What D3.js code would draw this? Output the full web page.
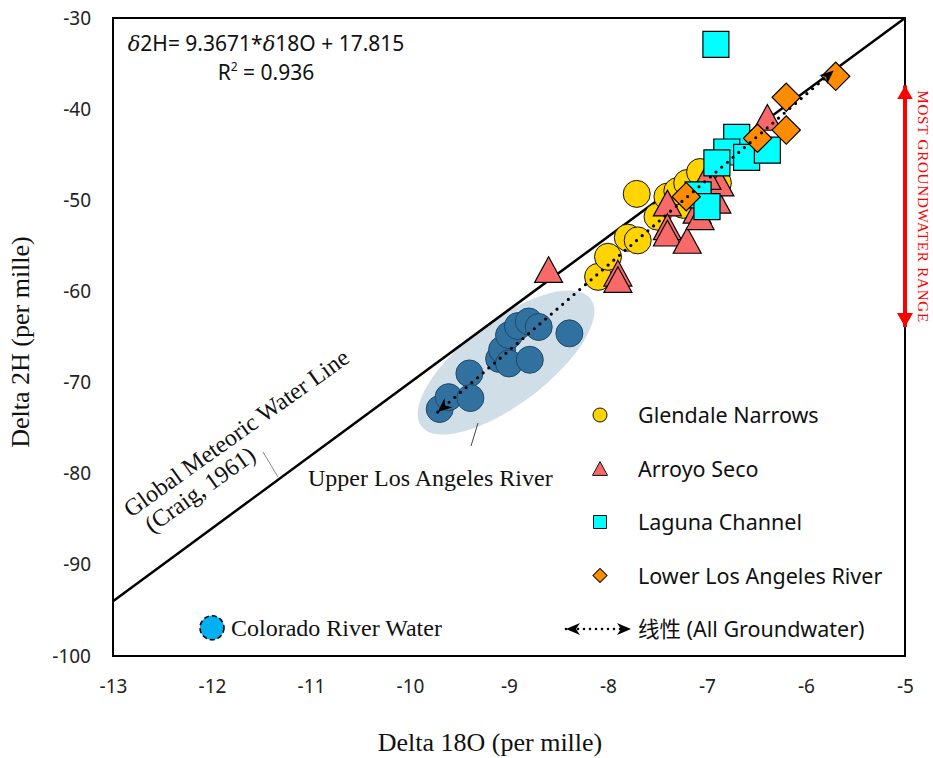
<!DOCTYPE html>
<html>
<head>
<meta charset="utf-8">
<script src="https://cdn.jsdelivr.net/npm/d3@7"></script>
<style>
  body { margin: 0; background: #fff; }
  .tick text { font-family: "Noto Sans", "Open Sans", sans-serif; font-size: 19px; fill: #222; }
  .serif { font-family: "Liberation Serif", "Times New Roman", serif; fill: #111; }
  .sans { font-family: "Noto Sans", "Noto Sans CJK SC", sans-serif; fill: #111; }
</style>
</head>
<body>
<script>
var W = 933, H = 758;
var margin = { top: 18, right: 28, bottom: 102, left: 113 };
var w = W - margin.left - margin.right;   // 792
var h = H - margin.top - margin.bottom;   // 638

// tick values
var xTicks = [-13, -12, -11, -10, -9, -8, -7, -6, -5];
var yTicks = [-30, -40, -50, -60, -70, -80, -90, -100];

// series (delta 18O, delta 2H)
var upperLA = [
  [-9.70, -72.9], [-9.61, -71.6], [-9.40, -69.0], [-9.39, -71.7],
  [-9.10, -67.4], [-9.07, -66.4], [-9.00, -67.9], [-8.79, -67.5],
  [-9.00, -64.8], [-8.91, -63.8], [-8.80, -63.3], [-8.70, -63.9],
  [-8.39, -64.6]
];
var glendale = [
  [-7.71, -49.3], [-8.10, -58.4], [-8.00, -56.2], [-7.80, -54.1],
  [-7.70, -54.4], [-7.50, -51.8], [-7.40, -49.6], [-7.24, -50.5],
  [-7.30, -49.0], [-7.20, -48.1], [-7.07, -46.9], [-6.89, -48.1]
];
var arroyo = [
  [-8.60, -57.6], [-7.90, -58.0], [-7.90, -58.7], [-7.40, -50.3],
  [-7.40, -52.9], [-7.40, -53.6], [-7.20, -54.4], [-7.10, -51.1],
  [-7.07, -51.8], [-6.90, -50.0], [-6.87, -48.1], [-7.00, -47.4],
  [-6.39, -40.9]
];
var laguna = [
  [-6.91, -32.9], [-6.70, -43.1], [-6.80, -44.7], [-6.60, -45.3],
  [-6.39, -44.5], [-6.90, -45.9], [-7.09, -49.4], [-7.00, -50.7]
];
var lowerLA = [
  [-5.70, -36.4], [-6.20, -38.7], [-6.20, -42.3], [-6.49, -43.2],
  [-7.21, -49.6]
];
var colorado = [[-12.0, -96.9]];

// lines
var gmwl = { slope: 8, intercept: 10, x: [-13, -5] };
var trend = { slope: 9.3671, intercept: 17.815, x: [-9.72, -5.72] };
var gwRange = [-37.4, -63.9];

var svg = d3.select("body").append("svg")
    .attr("width", W)
    .attr("height", H);

var defs = svg.append("defs");
function arrowMarker(id, color, len, wid, notch) {
    defs.append("marker")
        .attr("id", id)
        .attr("viewBox", "0 0 " + len + " " + wid)
        .attr("refX", len).attr("refY", wid / 2)
        .attr("markerWidth", len).attr("markerHeight", wid)
        .attr("markerUnits", "userSpaceOnUse")
        .attr("orient", "auto-start-reverse")
        .append("path")
        .attr("d", "M0,0L" + len + "," + (wid / 2) + "L0," + wid + "L" + notch + "," + (wid / 2) + "Z")
        .attr("fill", color);
}
arrowMarker("blackArrow", "#000", 14, 12, 4);
arrowMarker("redArrow", "#ff0000", 14, 16, 0);

var g = svg.append("g")
    .attr("transform", "translate(" + margin.left + "," + margin.top + ")");

var x = d3.scaleLinear().domain([-13, -5]).range([0, w]);
var y = d3.scaleLinear().domain([-100, -30]).range([h, 0]);

// axes (labels only, no tick marks), plain hyphen for the minus sign
var fmt = function (d) { return String(d); };
var xAxis = d3.axisBottom(x).tickValues(xTicks).tickFormat(fmt).tickSize(0).tickPadding(24);
var yAxis = d3.axisLeft(y).tickValues(yTicks).tickFormat(fmt).tickSize(0).tickPadding(22);
g.append("g").attr("transform", "translate(0," + h + ")").call(xAxis)
    .call(function (s) { s.select(".domain").remove(); });
g.append("g").call(yAxis)
    .call(function (s) { s.select(".domain").remove(); });

// ellipse round upper LA river
var ec = [-9.03, -67.8];
g.append("ellipse")
    .attr("cx", x(ec[0])).attr("cy", y(ec[1]))
    .attr("rx", 106).attr("ry", 42)
    .attr("transform", "rotate(-37," + x(ec[0]) + "," + y(ec[1]) + ")")
    .attr("fill", "#cfdee7");

// global meteoric water line
g.append("line")
    .attr("x1", x(gmwl.x[0])).attr("y1", y(gmwl.slope * gmwl.x[0] + gmwl.intercept))
    .attr("x2", x(gmwl.x[1])).attr("y2", y(gmwl.slope * gmwl.x[1] + gmwl.intercept))
    .attr("stroke", "#000").attr("stroke-width", 2.5);

// markers
function circles(data, r, fill, stroke) {
    g.append("g").selectAll("circle").data(data).enter().append("circle")
        .attr("cx", function (d) { return x(d[0]); })
        .attr("cy", function (d) { return y(d[1]); })
        .attr("r", r)
        .attr("fill", fill)
        .attr("stroke", stroke).attr("stroke-width", 1);
}
function triPath(s) {
    var hh = s * 0.92;
    return "M0," + (-hh / 2) + "L" + (s / 2) + "," + (hh / 2) + "L" + (-s / 2) + "," + (hh / 2) + "Z";
}
function shapes(data, pathStr, rot, fill) {
    g.append("g").selectAll("path").data(data).enter().append("path")
        .attr("d", pathStr)
        .attr("transform", function (d) {
            return "translate(" + x(d[0]) + "," + y(d[1]) + ") rotate(" + rot + ")";
        })
        .attr("fill", fill)
        .attr("stroke", "#000").attr("stroke-width", 1.2);
}
function sqPath(s) { return "M" + (-s / 2) + "," + (-s / 2) + "h" + s + "v" + s + "h" + (-s) + "Z"; }

circles(upperLA, 13.5, "#31719f", "#1d4a6b");
circles(glendale, 13.5, "#ffd400", "#111");
shapes(arroyo, triPath(28), 0, "#f86a6a");
shapes(laguna, sqPath(26), 0, "#00ffff");
shapes(lowerLA, sqPath(20), 45, "#ff8c00");

// colorado river water
g.append("g").selectAll("circle").data(colorado).enter().append("circle")
    .attr("cx", function (d) { return x(d[0]); })
    .attr("cy", function (d) { return y(d[1]); })
    .attr("r", 12)
    .attr("fill", "#00b0f0")
    .attr("stroke", "#000").attr("stroke-width", 1.6)
    .attr("stroke-dasharray", "5,3");

// trend line (all groundwater)
g.append("line")
    .attr("x1", x(trend.x[0])).attr("y1", y(trend.slope * trend.x[0] + trend.intercept))
    .attr("x2", x(trend.x[1])).attr("y2", y(trend.slope * trend.x[1] + trend.intercept))
    .attr("stroke", "#000").attr("stroke-width", 3.2)
    .attr("stroke-linecap", "round")
    .attr("stroke-dasharray", "0,7.5")
    .attr("marker-start", "url(#blackArrow)")
    .attr("marker-end", "url(#blackArrow)");

// plot frame
g.append("rect")
    .attr("width", w).attr("height", h)
    .attr("fill", "none").attr("stroke", "#000").attr("stroke-width", 2);

// groundwater range arrow
g.append("line")
    .attr("x1", x(-5)).attr("x2", x(-5))
    .attr("y1", y(gwRange[0])).attr("y2", y(gwRange[1]))
    .attr("stroke", "#ff0000").attr("stroke-width", 4)
    .attr("marker-start", "url(#redArrow)")
    .attr("marker-end", "url(#redArrow)");
svg.append("text").attr("class", "serif")
    .attr("transform", "translate(918," + (margin.top + y((gwRange[0] + gwRange[1]) / 2)) + ") rotate(90)")
    .attr("text-anchor", "middle")
    .attr("font-size", 15)
    .attr("textLength", 232)
    .style("fill", "#ff0000")
    .text("MOST GROUNDWATER RANGE");

// equation
var eq = svg.append("text").attr("class", "sans").attr("font-size", 21)
    .attr("x", 266).attr("y", 51).attr("text-anchor", "middle");
eq.append("tspan").attr("font-style", "italic").attr("font-family", "DejaVu Serif, serif").text("δ");
eq.append("tspan").text("2H= 9.3671*");
eq.append("tspan").attr("font-style", "italic").attr("font-family", "DejaVu Serif, serif").text("δ");
eq.append("tspan").text("18O + 17.815");
var r2 = svg.append("text").attr("class", "sans").attr("font-size", 21)
    .attr("x", 266).attr("y", 80).attr("text-anchor", "middle");
r2.append("tspan").text("R");
r2.append("tspan").attr("font-size", 12).attr("dy", -9).text("2");
r2.append("tspan").attr("dy", 9).text(" = 0.936");

// GMWL label
var gl = svg.append("text").attr("class", "serif").attr("font-size", 24)
    .attr("transform", "translate(131,518) rotate(-35.5)");
gl.append("tspan").attr("x", 0).attr("y", 0).text("Global Meteoric Water Line");
gl.append("tspan").attr("x", 8).attr("y", 25).text("(Craig, 1961)");
svg.append("line")
    .attr("x1", 263).attr("y1", 452).attr("x2", 278).attr("y2", 477)
    .attr("stroke", "#888").attr("stroke-width", 1);

// upper LA river label
svg.append("text").attr("class", "serif").attr("font-size", 24)
    .attr("x", 308).attr("y", 486).text("Upper Los Angeles River");
svg.append("line")
    .attr("x1", 478).attr("y1", 423).attr("x2", 471).attr("y2", 446)
    .attr("stroke", "#444").attr("stroke-width", 1);

// colorado label
svg.append("text").attr("class", "serif").attr("font-size", 24)
    .attr("x", 231).attr("y", 636).text("Colorado River Water");

// axis titles
svg.append("text").attr("class", "serif").attr("font-size", 26)
    .attr("x", 490).attr("y", 751).attr("text-anchor", "middle")
    .text("Delta 18O (per mille)");
svg.append("text").attr("class", "serif").attr("font-size", 26)
    .attr("transform", "translate(29,342) rotate(-90)")
    .attr("text-anchor", "middle")
    .text("Delta 2H (per mille)");

// legend
var legendNames = ["Glendale Narrows", "Arroyo Seco", "Laguna Channel", "Lower Los Angeles River", "线性 (All Groundwater)"];
var legY = d3.scaleLinear().domain([0, 4]).range([415, 629]);
var leg = svg.append("g");
legendNames.forEach(function (name, i) {
    var cy = legY(i);
    leg.append("text").attr("class", "sans").attr("font-size", 21.5)
        .attr("x", 638).attr("y", cy + 8).text(name);
});
leg.append("circle").attr("cx", 600).attr("cy", legY(0)).attr("r", 7)
    .attr("fill", "#ffd400").attr("stroke", "#111");
leg.append("path").attr("d", triPath(15)).attr("transform", "translate(600," + legY(1) + ")")
    .attr("fill", "#f86a6a").attr("stroke", "#111");
leg.append("path").attr("d", sqPath(13)).attr("transform", "translate(600," + legY(2) + ")")
    .attr("fill", "#00ffff").attr("stroke", "#111");
leg.append("path").attr("d", sqPath(10)).attr("transform", "translate(600," + legY(3) + ") rotate(45)")
    .attr("fill", "#ff8c00").attr("stroke", "#111");
leg.append("line").attr("x1", 566).attr("x2", 631).attr("y1", legY(4)).attr("y2", legY(4))
    .attr("stroke", "#000").attr("stroke-width", 2.6)
    .attr("stroke-linecap", "round")
    .attr("stroke-dasharray", "0,6")
    .attr("marker-start", "url(#blackArrow)")
    .attr("marker-end", "url(#blackArrow)");
</script>
</body>
</html>
